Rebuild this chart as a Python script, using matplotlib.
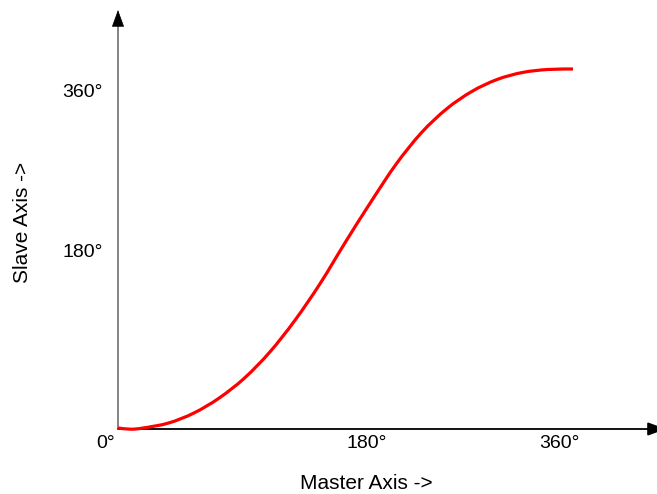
import matplotlib
matplotlib.use("Agg")
import matplotlib.pyplot as plt
from matplotlib.path import Path
from matplotlib.patches import PathPatch

# Data (degrees)
master = [0, 10, 20, 40, 60, 80, 100, 120, 140, 160, 180, 200, 220, 240, 260,
          280, 300, 320, 340, 360]
slave = [0, -1.2, 0, 5, 15, 30, 50, 76, 108, 145, 186.5, 226.5, 264.5, 296,
         320, 337.5, 349.5, 356.5, 359.5, 360]

x_tick_labels = ["0°", "180°", "360°"]
y_tick_labels = ["180°", "360°"]

plt.rcParams['font.family'] = ['Liberation Sans', 'DejaVu Sans']

W, H = 657, 494
fig = plt.figure(figsize=(W / 100, H / 100), dpi=100)
ax = fig.add_axes([0, 0, 1, 1])
ax.set_axis_off()

# pixel mapping: x=0 -> 118px, x=360 -> 573px ; y=0 -> 428px, y=360 -> 69px
sx = 455 / 360
sy = 359 / 360
ax.set_xlim(-118 / sx, (W - 118) / sx)
ax.set_ylim(-(H - 428) / sy, 428 / sy)

def px2x(p):
    return (p - 118) / sx

def py2y(p):
    return (428 - p) / sy

# y axis: gray line + black arrowhead
ax.plot([px2x(118), px2x(118)], [py2y(429), py2y(22)], color='#7a7a7a', lw=1.3,
        solid_capstyle='butt')
ax.annotate('', xy=(px2x(118), py2y(10)), xytext=(px2x(118), py2y(26)),
            arrowprops=dict(arrowstyle='-|>,head_length=1.1,head_width=0.4',
                            color='black', lw=0.5, shrinkA=0, shrinkB=0),
            annotation_clip=False)
# x axis: black line with arrowhead at right edge
ax.annotate('', xy=(px2x(666), py2y(429)), xytext=(px2x(118), py2y(429)),
            arrowprops=dict(arrowstyle='-|>,head_length=1.1,head_width=0.4',
                            color='black', lw=1.3, shrinkA=0, shrinkB=0),
            annotation_clip=False)

# smooth curve through the data points (Catmull-Rom -> cubic Bezier)
pts = list(zip(master, slave))
verts = [pts[0]]
codes = [Path.MOVETO]
n = len(pts)
for i in range(n - 1):
    p0 = pts[i - 1] if i > 0 else pts[i]
    p1 = pts[i]
    p2 = pts[i + 1]
    p3 = pts[i + 2] if i + 2 < n else pts[i + 1]
    c1 = (p1[0] + (p2[0] - p0[0]) / 6, p1[1] + (p2[1] - p0[1]) / 6)
    c2 = (p2[0] - (p3[0] - p1[0]) / 6, p2[1] - (p3[1] - p1[1]) / 6)
    verts += [c1, c2, p2]
    codes += [Path.CURVE4] * 3
ax.add_patch(PathPatch(Path(verts, codes), facecolor='none', edgecolor='#ff0000',
                       lw=2.3, capstyle='butt', zorder=5))

fs = 14
# x labels
ax.text(px2x(106), py2y(443), x_tick_labels[0], ha='center', va='center', fontsize=fs)
ax.text(px2x(367), py2y(443), x_tick_labels[1], ha='center', va='center', fontsize=fs)
ax.text(px2x(559), py2y(443), x_tick_labels[2], ha='center', va='center', fontsize=fs)
# y labels
ax.text(px2x(103), py2y(252), y_tick_labels[0], ha='right', va='center', fontsize=fs)
ax.text(px2x(103), py2y(92), y_tick_labels[1], ha='right', va='center', fontsize=fs)

ax.text(px2x(366), py2y(483), "Master Axis ->", ha='center', va='center',
        fontsize=15, fontstretch='expanded')
ax.text(px2x(22), py2y(222), "Slave Axis ->", ha='center', va='center',
        rotation=90, fontsize=15)

fig.savefig("out.png", dpi=100)
